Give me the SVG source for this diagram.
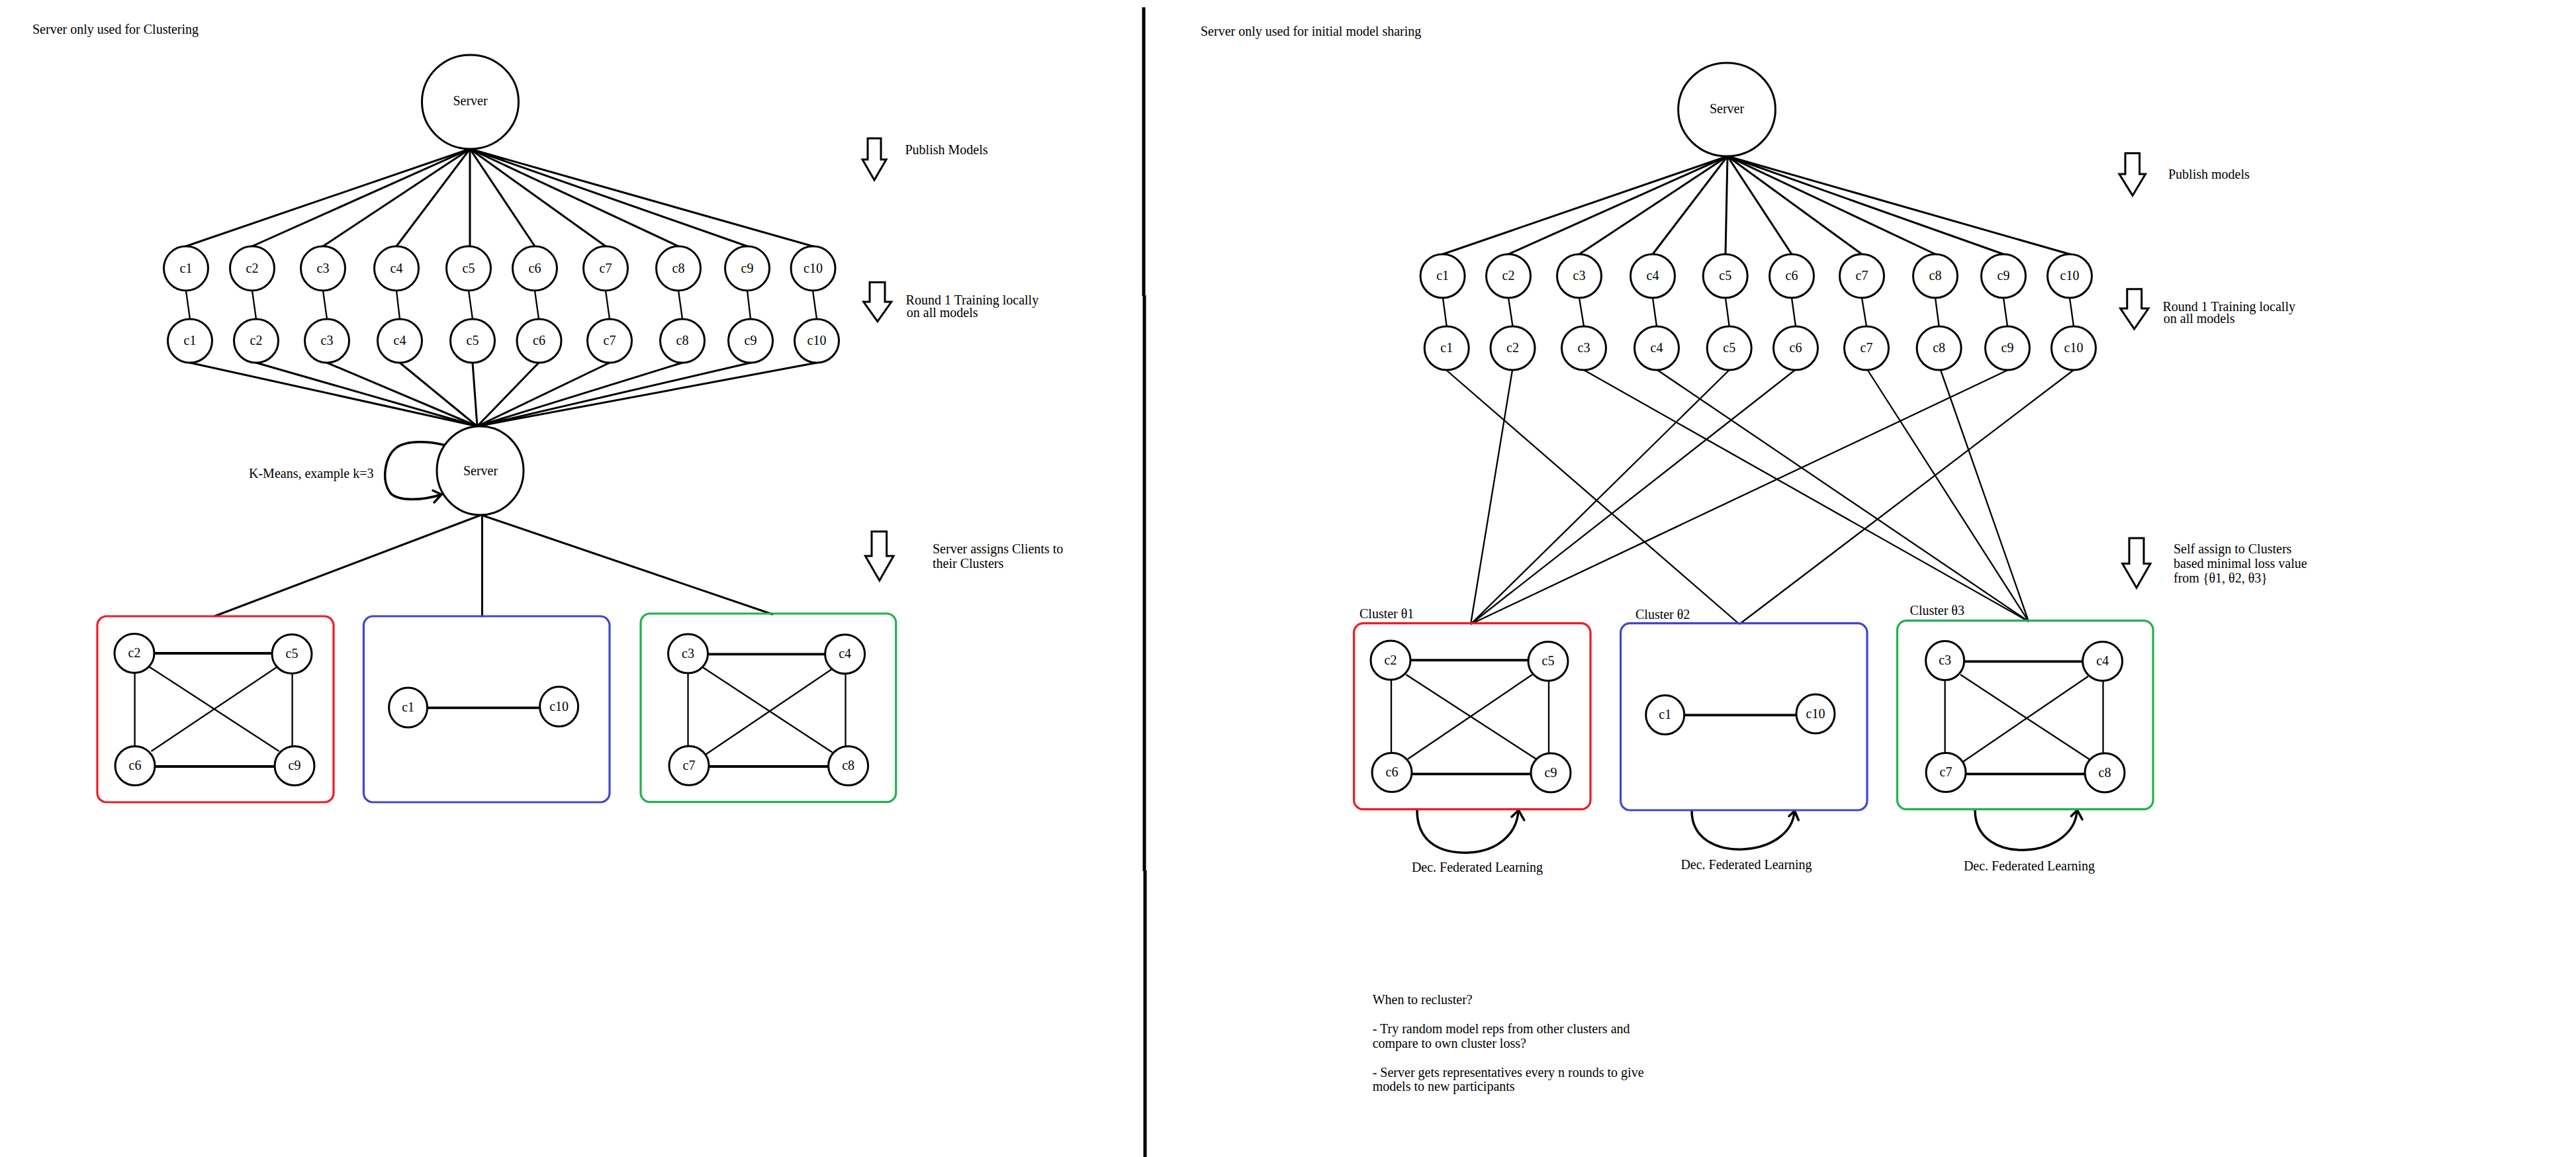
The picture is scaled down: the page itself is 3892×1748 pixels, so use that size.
<svg xmlns="http://www.w3.org/2000/svg" width="3892" height="1748" viewBox="0 0 3892 1748">
<style>
text{font-family:"Liberation Serif","Times New Roman",serif;font-size:20px;fill:#000}
.m{text-anchor:middle}
.n{fill:#fff;stroke:#000;stroke-width:3}
.e{stroke:#000;stroke-width:3;fill:none;stroke-linecap:round}
.t{stroke:#000;stroke-width:2.3;fill:none}
.h{stroke:#000;stroke-width:3.8;fill:none}
.ar{fill:#fff;stroke:#000;stroke-width:3;stroke-linejoin:miter}
.lp{fill:none;stroke:#000;stroke-width:3.5;stroke-linecap:round;stroke-linejoin:round}
.red{fill:none;stroke:#ED1C24;stroke-width:3.2}
.blue{fill:none;stroke:#3F48CC;stroke-width:3.2}
.green{fill:none;stroke:#22B14C;stroke-width:3.2}
</style>
<rect width="3892" height="1748" fill="#fff"/>
<g id="divider" fill="#000">
<rect x="1725.5" y="11" width="5" height="436"/>
<rect x="1726.5" y="446" width="5" height="870"/>
<rect x="1727.5" y="1315" width="5" height="433"/>
</g>
<g id="connectors">
<!-- left fan -->
<line class="e" x1="710" y1="225" x2="281" y2="372"/>
<line class="e" x1="710" y1="225" x2="381" y2="372"/>
<line class="e" x1="710" y1="225" x2="488" y2="372"/>
<line class="e" x1="710" y1="225" x2="599" y2="372"/>
<line class="e" x1="710" y1="225" x2="710" y2="372"/>
<line class="e" x1="710" y1="225" x2="808" y2="372"/>
<line class="e" x1="710" y1="225" x2="915" y2="372"/>
<line class="e" x1="710" y1="225" x2="1025" y2="372"/>
<line class="e" x1="710" y1="225" x2="1129" y2="372"/>
<line class="e" x1="710" y1="225" x2="1228" y2="372"/>
<!-- left row links -->
<line class="t" x1="281" y1="439" x2="287" y2="482"/>
<line class="t" x1="381" y1="439" x2="387" y2="482"/>
<line class="t" x1="488" y1="439" x2="494" y2="482"/>
<line class="t" x1="599" y1="439" x2="604" y2="482"/>
<line class="t" x1="708" y1="439" x2="714" y2="482"/>
<line class="t" x1="808" y1="439" x2="814" y2="482"/>
<line class="t" x1="915" y1="439" x2="921" y2="482"/>
<line class="t" x1="1025" y1="439" x2="1031" y2="482"/>
<line class="t" x1="1129" y1="439" x2="1134" y2="482"/>
<line class="t" x1="1228" y1="439" x2="1234" y2="482"/>
<!-- left row2 to server -->
<line class="e" x1="287" y1="548" x2="721" y2="644"/>
<line class="e" x1="387" y1="548" x2="721" y2="644"/>
<line class="e" x1="494" y1="548" x2="721" y2="644"/>
<line class="e" x1="604" y1="548" x2="721" y2="644"/>
<line class="e" x1="714" y1="548" x2="721" y2="644"/>
<line class="e" x1="814" y1="548" x2="721" y2="644"/>
<line class="e" x1="921" y1="548" x2="721" y2="644"/>
<line class="e" x1="1031" y1="548" x2="721" y2="644"/>
<line class="e" x1="1134" y1="548" x2="721" y2="644"/>
<line class="e" x1="1234" y1="548" x2="721" y2="644"/>
<!-- server to clusters -->
<line class="e" x1="727" y1="778" x2="324" y2="931"/>
<line class="e" x1="728.5" y1="778" x2="728.5" y2="931"/>
<line class="e" x1="727" y1="778" x2="1167" y2="928"/>
<!-- k-means loop -->
<path class="lp" d="M670,672 C650,667 614,664 598,677 C582,690 575,725 590,745 C602,758 640,756 667,747"/>
<path class="lp" d="M654,741 L667,747 L656,759"/>
<!-- right fan -->
<line class="e" x1="2610" y1="236" x2="2180" y2="384"/>
<line class="e" x1="2610" y1="236" x2="2279" y2="384"/>
<line class="e" x1="2610" y1="236" x2="2386" y2="384"/>
<line class="e" x1="2610" y1="236" x2="2497" y2="384"/>
<line class="e" x1="2610" y1="236" x2="2607" y2="384"/>
<line class="e" x1="2610" y1="236" x2="2707" y2="384"/>
<line class="e" x1="2610" y1="236" x2="2813" y2="384"/>
<line class="e" x1="2610" y1="236" x2="2924" y2="384"/>
<line class="e" x1="2610" y1="236" x2="3027" y2="384"/>
<line class="e" x1="2610" y1="236" x2="3127" y2="384"/>
<!-- right row links -->
<line class="t" x1="2180" y1="450" x2="2185.7" y2="493"/>
<line class="t" x1="2279" y1="450" x2="2285.5" y2="493"/>
<line class="t" x1="2386" y1="450" x2="2393" y2="493"/>
<line class="t" x1="2497" y1="450" x2="2503" y2="493"/>
<line class="t" x1="2607" y1="450" x2="2612.7" y2="493"/>
<line class="t" x1="2707" y1="450" x2="2713" y2="493"/>
<line class="t" x1="2813" y1="450" x2="2820" y2="493"/>
<line class="t" x1="2924" y1="450" x2="2929.6" y2="493"/>
<line class="t" x1="3027" y1="450" x2="3033" y2="493"/>
<line class="t" x1="3127" y1="450" x2="3133" y2="493"/>
<!-- right row2 to clusters -->
<line class="t" x1="2185" y1="559" x2="2628" y2="943"/>
<line class="t" x1="2285" y1="559" x2="2222" y2="943"/>
<line class="t" x1="2393" y1="559" x2="3065" y2="939"/>
<line class="t" x1="2504" y1="559" x2="3065" y2="939"/>
<line class="t" x1="2612.7" y1="559" x2="2222" y2="943"/>
<line class="t" x1="2712" y1="559" x2="2222" y2="943"/>
<line class="t" x1="2821.7" y1="559" x2="3065" y2="939"/>
<line class="t" x1="2932" y1="559" x2="3065" y2="939"/>
<line class="t" x1="3033.7" y1="559" x2="2222" y2="943"/>
<line class="t" x1="3133" y1="559" x2="2628" y2="943"/>
<!-- dec FL loops -->
<path class="lp" d="M2141,1224 C2141,1275 2180,1290 2220,1288 C2262,1286 2292,1260 2294,1225"/>
<path class="lp" d="M2284,1234 L2294.4,1224 L2302.7,1239"/>
<path class="lp" d="M2556,1225 C2556,1268 2595,1285 2634,1283 C2676,1281 2709,1258 2711,1226"/>
<path class="lp" d="M2703,1233 L2711.4,1225 L2717.3,1239"/>
<path class="lp" d="M2984,1224 C2984,1268 3022,1286 3061,1284 C3103,1282 3136,1258 3138,1225"/>
<path class="lp" d="M3129.4,1233 L3138.5,1224 L3146,1238"/>
<!-- cluster internal edges left -->
<line class="h" x1="233" y1="987" x2="411" y2="987"/>
<line class="h" x1="234" y1="1158" x2="415" y2="1158"/>
<line class="t" x1="203.6" y1="1016" x2="203.6" y2="1128"/>
<line class="t" x1="441.6" y1="1017" x2="441.6" y2="1128"/>
<line class="t" x1="224.4" y1="1006.7" x2="421.7" y2="1135"/>
<line class="t" x1="417.6" y1="1008.3" x2="228.5" y2="1135"/>
<line class="h" x1="645.6" y1="1069.3" x2="815.6" y2="1069.3"/>
<line class="h" x1="1069" y1="988.3" x2="1247" y2="988.3"/>
<line class="h" x1="1070" y1="1158" x2="1253" y2="1158"/>
<line class="t" x1="1039.5" y1="1017" x2="1039.5" y2="1128"/>
<line class="t" x1="1277.5" y1="1018" x2="1277.5" y2="1128"/>
<line class="t" x1="1061.9" y1="1008.3" x2="1258.4" y2="1137.3"/>
<line class="t" x1="1256.7" y1="1011" x2="1066" y2="1140"/>
<!-- cluster internal edges right -->
<line class="h" x1="2131" y1="997.3" x2="2309" y2="997.3"/>
<line class="h" x1="2132.7" y1="1169.3" x2="2313.4" y2="1169.3"/>
<line class="t" x1="2102" y1="1027" x2="2102" y2="1138"/>
<line class="t" x1="2340" y1="1028" x2="2340" y2="1138"/>
<line class="t" x1="2124.4" y1="1019.3" x2="2321" y2="1146.7"/>
<line class="t" x1="2315" y1="1019.3" x2="2127" y2="1146.7"/>
<line class="h" x1="2544.8" y1="1080.3" x2="2714.8" y2="1080.3"/>
<line class="h" x1="2967.7" y1="999.3" x2="3146.8" y2="999.3"/>
<line class="h" x1="2970" y1="1169.3" x2="3150" y2="1169.3"/>
<line class="t" x1="2938.6" y1="1027" x2="2938.6" y2="1138"/>
<line class="t" x1="3177.5" y1="1028" x2="3177.5" y2="1138"/>
<line class="t" x1="2962" y1="1019.3" x2="3158.4" y2="1148.3"/>
<line class="t" x1="3155" y1="1021.7" x2="2966" y2="1150.7"/>
</g>
<g id="left-server-top"><ellipse class="n" cx="710.5" cy="154" rx="73" ry="71"/><text class="m" x="710.5" y="159">Server</text></g>
<g id="left-row1">
<g id="l1-c1"><ellipse class="n" cx="281" cy="405.5" rx="33.5" ry="33.5"/><text class="m" x="281" y="411.5">c1</text></g>
<g id="l1-c2"><ellipse class="n" cx="381" cy="405.5" rx="33.5" ry="33.5"/><text class="m" x="381" y="411.5">c2</text></g>
<g id="l1-c3"><ellipse class="n" cx="488" cy="405.5" rx="33.5" ry="33.5"/><text class="m" x="488" y="411.5">c3</text></g>
<g id="l1-c4"><ellipse class="n" cx="599" cy="405.5" rx="33.5" ry="33.5"/><text class="m" x="599" y="411.5">c4</text></g>
<g id="l1-c5"><ellipse class="n" cx="708" cy="405.5" rx="33.5" ry="33.5"/><text class="m" x="708" y="411.5">c5</text></g>
<g id="l1-c6"><ellipse class="n" cx="808" cy="405.5" rx="33.5" ry="33.5"/><text class="m" x="808" y="411.5">c6</text></g>
<g id="l1-c7"><ellipse class="n" cx="915" cy="405.5" rx="33.5" ry="33.5"/><text class="m" x="915" y="411.5">c7</text></g>
<g id="l1-c8"><ellipse class="n" cx="1025" cy="405.5" rx="33.5" ry="33.5"/><text class="m" x="1025" y="411.5">c8</text></g>
<g id="l1-c9"><ellipse class="n" cx="1129" cy="405.5" rx="33.5" ry="33.5"/><text class="m" x="1129" y="411.5">c9</text></g>
<g id="l1-c10"><ellipse class="n" cx="1228.5" cy="405.5" rx="33.5" ry="33.5"/><text class="m" x="1228.5" y="411.5">c10</text></g>
</g>
<g id="left-row2">
<g id="l2-c1"><ellipse class="n" cx="287" cy="515" rx="33.5" ry="33"/><text class="m" x="287" y="521">c1</text></g>
<g id="l2-c2"><ellipse class="n" cx="387" cy="515" rx="33.5" ry="33"/><text class="m" x="387" y="521">c2</text></g>
<g id="l2-c3"><ellipse class="n" cx="494" cy="515" rx="33.5" ry="33"/><text class="m" x="494" y="521">c3</text></g>
<g id="l2-c4"><ellipse class="n" cx="604" cy="515" rx="33.5" ry="33"/><text class="m" x="604" y="521">c4</text></g>
<g id="l2-c5"><ellipse class="n" cx="714" cy="515" rx="33.5" ry="33"/><text class="m" x="714" y="521">c5</text></g>
<g id="l2-c6"><ellipse class="n" cx="814.5" cy="515" rx="33.5" ry="33"/><text class="m" x="814.5" y="521">c6</text></g>
<g id="l2-c7"><ellipse class="n" cx="921" cy="515" rx="33.5" ry="33"/><text class="m" x="921" y="521">c7</text></g>
<g id="l2-c8"><ellipse class="n" cx="1031" cy="515" rx="33.5" ry="33"/><text class="m" x="1031" y="521">c8</text></g>
<g id="l2-c9"><ellipse class="n" cx="1134" cy="515" rx="33.5" ry="33"/><text class="m" x="1134" y="521">c9</text></g>
<g id="l2-c10"><ellipse class="n" cx="1234" cy="515" rx="33.5" ry="33"/><text class="m" x="1234" y="521">c10</text></g>
</g>
<g id="left-server-mid"><ellipse class="n" cx="725.5" cy="711" rx="65.5" ry="67"/><text class="m" x="726" y="718">Server</text></g>
<text x="376" y="722">K-Means, example k=3</text>
<g id="left-cluster-red">
<rect class="red" x="147" y="931" width="357" height="281" rx="14"/>
<g><ellipse class="n" cx="203" cy="987" rx="30" ry="29.5"/><text class="m" x="203" y="993">c2</text></g>
<g><ellipse class="n" cx="441" cy="988" rx="30" ry="29.5"/><text class="m" x="441" y="994">c5</text></g>
<g><ellipse class="n" cx="204" cy="1157" rx="30" ry="29.5"/><text class="m" x="204" y="1163">c6</text></g>
<g><ellipse class="n" cx="445" cy="1157" rx="30" ry="29.5"/><text class="m" x="445" y="1163">c9</text></g>
</g>
<g id="left-cluster-blue">
<rect class="blue" x="549.4" y="931" width="371.6" height="281" rx="14"/>
<g><ellipse class="n" cx="616.6" cy="1069" rx="29" ry="30"/><text class="m" x="616.6" y="1075">c1</text></g>
<g><ellipse class="n" cx="844.6" cy="1067.5" rx="29" ry="30"/><text class="m" x="844.6" y="1073.5">c10</text></g>
</g>
<g id="left-cluster-green">
<rect class="green" x="968" y="927" width="385.7" height="284.7" rx="14"/>
<g><ellipse class="n" cx="1039.5" cy="987.5" rx="30" ry="29.5"/><text class="m" x="1039.5" y="993.5">c3</text></g>
<g><ellipse class="n" cx="1276.6" cy="988.3" rx="30" ry="29.5"/><text class="m" x="1276.6" y="994.3">c4</text></g>
<g><ellipse class="n" cx="1041" cy="1156.7" rx="30" ry="29.5"/><text class="m" x="1041" y="1162.7">c7</text></g>
<g><ellipse class="n" cx="1281.6" cy="1157" rx="30" ry="29.5"/><text class="m" x="1281.6" y="1163">c8</text></g>
</g>
<g id="left-annotations">
<text x="49" y="51">Server only used for Clustering</text>
<polygon class="ar" points="1311,209 1331,209 1331,241 1339,241 1321,272 1303,241 1311,241"/>
<text x="1367.5" y="233">Publish Models</text>
<polygon class="ar" points="1314,426.5 1337,426.5 1337,456 1346.8,456 1325.8,485.7 1304.7,456 1314,456"/>
<text x="1368.6" y="460">Round 1 Training locally</text>
<text x="1369.8" y="479">on all models</text>
<polygon class="ar" points="1317,803 1339.6,803 1339.6,840 1350,840 1328.8,877 1307.4,840 1317,840"/>
<text x="1409" y="836">Server assigns Clients to</text>
<text x="1409" y="858">their Clusters</text>
</g>
<g id="right-server"><ellipse class="n" cx="2609" cy="165.5" rx="73.4" ry="70.5"/><text class="m" x="2609" y="171">Server</text></g>
<g id="right-row1">
<g id="r1-c1"><ellipse class="n" cx="2179.6" cy="417" rx="33.5" ry="33"/><text class="m" x="2179.6" y="423">c1</text></g>
<g id="r1-c2"><ellipse class="n" cx="2279" cy="417" rx="33.5" ry="33"/><text class="m" x="2279" y="423">c2</text></g>
<g id="r1-c3"><ellipse class="n" cx="2386" cy="417" rx="33.5" ry="33"/><text class="m" x="2386" y="423">c3</text></g>
<g id="r1-c4"><ellipse class="n" cx="2497" cy="417" rx="33.5" ry="33"/><text class="m" x="2497" y="423">c4</text></g>
<g id="r1-c5"><ellipse class="n" cx="2606.7" cy="417" rx="33.5" ry="33"/><text class="m" x="2606.7" y="423">c5</text></g>
<g id="r1-c6"><ellipse class="n" cx="2707" cy="417" rx="33.5" ry="33"/><text class="m" x="2707" y="423">c6</text></g>
<g id="r1-c7"><ellipse class="n" cx="2813" cy="417" rx="33.5" ry="33"/><text class="m" x="2813" y="423">c7</text></g>
<g id="r1-c8"><ellipse class="n" cx="2924" cy="417" rx="33.5" ry="33"/><text class="m" x="2924" y="423">c8</text></g>
<g id="r1-c9"><ellipse class="n" cx="3027" cy="417" rx="33.5" ry="33"/><text class="m" x="3027" y="423">c9</text></g>
<g id="r1-c10"><ellipse class="n" cx="3127" cy="417" rx="33.5" ry="33"/><text class="m" x="3127" y="423">c10</text></g>
</g>
<g id="right-row2">
<g id="r2-c1"><ellipse class="n" cx="2185.7" cy="526" rx="33.5" ry="33"/><text class="m" x="2185.7" y="532">c1</text></g>
<g id="r2-c2"><ellipse class="n" cx="2285.5" cy="526" rx="33.5" ry="33"/><text class="m" x="2285.5" y="532">c2</text></g>
<g id="r2-c3"><ellipse class="n" cx="2393" cy="526" rx="33.5" ry="33"/><text class="m" x="2393" y="532">c3</text></g>
<g id="r2-c4"><ellipse class="n" cx="2503" cy="526" rx="33.5" ry="33"/><text class="m" x="2503" y="532">c4</text></g>
<g id="r2-c5"><ellipse class="n" cx="2612.7" cy="526" rx="33.5" ry="33"/><text class="m" x="2612.7" y="532">c5</text></g>
<g id="r2-c6"><ellipse class="n" cx="2713" cy="526" rx="33.5" ry="33"/><text class="m" x="2713" y="532">c6</text></g>
<g id="r2-c7"><ellipse class="n" cx="2820" cy="526" rx="33.5" ry="33"/><text class="m" x="2820" y="532">c7</text></g>
<g id="r2-c8"><ellipse class="n" cx="2929.6" cy="526" rx="33.5" ry="33"/><text class="m" x="2929.6" y="532">c8</text></g>
<g id="r2-c9"><ellipse class="n" cx="3033" cy="526" rx="33.5" ry="33"/><text class="m" x="3033" y="532">c9</text></g>
<g id="r2-c10"><ellipse class="n" cx="3133" cy="526" rx="33.5" ry="33"/><text class="m" x="3133" y="532">c10</text></g>
</g>
<g id="right-cluster-red">
<rect class="red" x="2045.6" y="941.7" width="357.4" height="281" rx="14"/>
<text x="2054" y="934">Cluster θ1</text>
<g><ellipse class="n" cx="2101" cy="997.5" rx="30" ry="29.5"/><text class="m" x="2101" y="1003.5">c2</text></g>
<g><ellipse class="n" cx="2339" cy="999" rx="30" ry="29.5"/><text class="m" x="2339" y="1005">c5</text></g>
<g><ellipse class="n" cx="2103" cy="1167" rx="30" ry="29.5"/><text class="m" x="2103" y="1173">c6</text></g>
<g><ellipse class="n" cx="2343" cy="1167.5" rx="30" ry="29.5"/><text class="m" x="2343" y="1173.5">c9</text></g>
</g>
<g id="right-cluster-blue">
<rect class="blue" x="2448.6" y="941.7" width="372.4" height="282.3" rx="14"/>
<text x="2471" y="935">Cluster θ2</text>
<g><ellipse class="n" cx="2515.7" cy="1080" rx="29" ry="29.5"/><text class="m" x="2515.7" y="1086">c1</text></g>
<g><ellipse class="n" cx="2743" cy="1078.5" rx="29" ry="29.5"/><text class="m" x="2743" y="1084.5">c10</text></g>
</g>
<g id="right-cluster-green">
<rect class="green" x="2866.5" y="937.7" width="386.5" height="285" rx="14"/>
<text x="2885.6" y="928.7">Cluster θ3</text>
<g><ellipse class="n" cx="2938.6" cy="998" rx="29" ry="29.5"/><text class="m" x="2938.6" y="1004">c3</text></g>
<g><ellipse class="n" cx="3176.6" cy="999" rx="30" ry="29.5"/><text class="m" x="3176.6" y="1005">c4</text></g>
<g><ellipse class="n" cx="2940" cy="1167" rx="30" ry="29.5"/><text class="m" x="2940" y="1173">c7</text></g>
<g><ellipse class="n" cx="3180" cy="1167.5" rx="30" ry="29.5"/><text class="m" x="3180" y="1173.5">c8</text></g>
</g>
<g id="right-annotations">
<text x="1814" y="54">Server only used for initial model sharing</text>
<polygon class="ar" points="3211,231.6 3232.6,231.6 3232.6,263 3241.5,263 3222,295.4 3202,263 3211,263"/>
<text x="3276" y="270">Publish models</text>
<polygon class="ar" points="3213.8,436.7 3235.7,436.7 3235.7,466 3246,466 3224.6,497 3203.6,466 3213.8,466"/>
<text x="3267.4" y="470.4">Round 1 Training locally</text>
<text x="3268.8" y="488">on all models</text>
<polygon class="ar" points="3217,813 3239,813 3239,851.5 3249,851.5 3228,888 3206.7,851.5 3217,851.5"/>
<text x="3284" y="836">Self assign to Clusters</text>
<text x="3284" y="858">based minimal loss value</text>
<text x="3284" y="880">from {θ1, θ2, θ3}</text>
<text class="m" x="2232" y="1317">Dec. Federated Learning</text>
<text class="m" x="2638.5" y="1313">Dec. Federated Learning</text>
<text class="m" x="3066" y="1315">Dec. Federated Learning</text>
<text x="2073.7" y="1516.7">When to recluster?</text>
<text x="2073.7" y="1561">- Try random model reps from other clusters and</text>
<text x="2073.7" y="1582.7">compare to own cluster loss?</text>
<text x="2073.7" y="1626.7">- Server gets representatives every n rounds to give</text>
<text x="2073.7" y="1648.3">models to new participants</text>
</g>
</svg>
